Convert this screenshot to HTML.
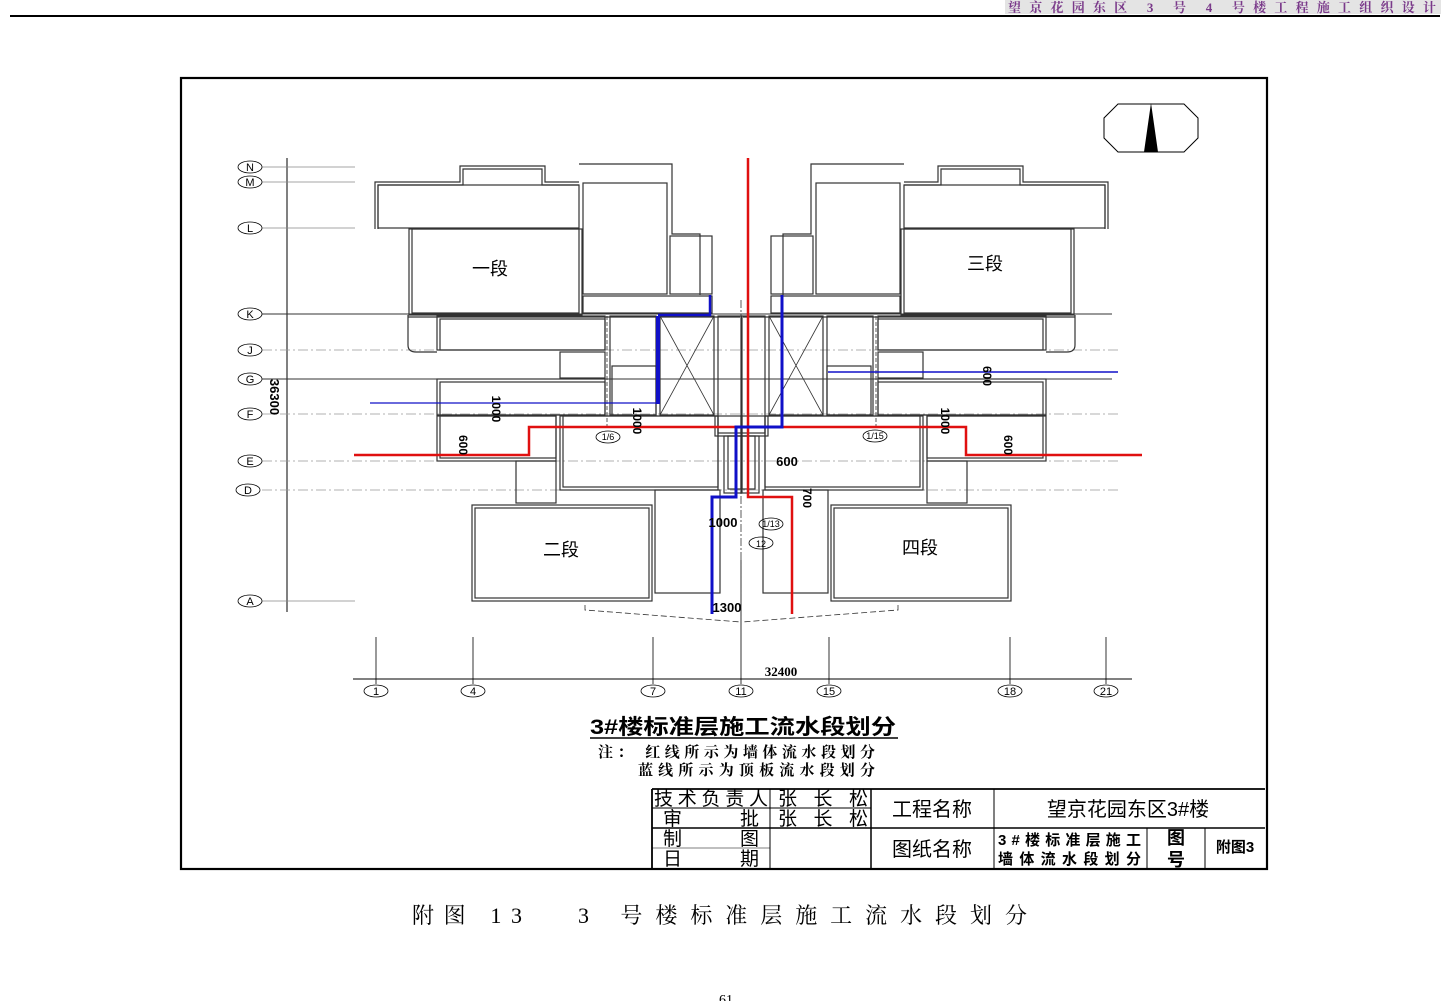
<!DOCTYPE html>
<html><head><meta charset="utf-8"><style>
html,body{margin:0;padding:0;background:#fff;}
svg{display:block;}
text{font-family:"Liberation Sans","Noto Sans CJK SC",sans-serif;}
.w{fill:none;stroke:#333;stroke-width:1.2;}
.g{stroke:#999;stroke-width:0.8;stroke-dasharray:10 3 2 3;fill:none;}
.cj{font-family:"Liberation Serif","Noto Serif CJK SC",serif;}
</style></head><body>
<svg width="1443" height="1001" viewBox="0 0 1443 1001" xmlns="http://www.w3.org/2000/svg">
<!-- header -->
<rect x="1005" y="0" width="436" height="14" fill="#e4e4e4"/>
<text x="1008" y="12" font-size="13" font-weight="bold" fill="#7a3a8a" textLength="428" lengthAdjust="spacing" class="cj">望京花园东区 3 号 4 号楼工程施工组织设计</text>
<line x1="10" y1="16" x2="1440" y2="16" stroke="#000" stroke-width="2"/>
<!-- frame -->
<rect x="181" y="78" width="1086" height="791" fill="none" stroke="#000" stroke-width="2.2"/>
<!-- compass -->
<polygon points="1118,104 1184,104 1198,118 1198,138 1184,152 1118,152 1104,138 1104,118" fill="none" stroke="#000" stroke-width="1"/>
<polygon points="1151,103 1144,152 1158,152" fill="#000"/>
<!-- grid lines -->
<line x1="287" y1="158" x2="287" y2="612" stroke="#000" stroke-width="1"/>
<g stroke="#888" stroke-width="0.8">
<line x1="262" y1="167" x2="355" y2="167"/><line x1="262" y1="182" x2="355" y2="182"/>
<line x1="262" y1="228" x2="355" y2="228"/><line x1="262" y1="601" x2="355" y2="601"/>
</g>
<line x1="262" y1="314" x2="1112" y2="314" stroke="#333" stroke-width="1"/>
<line x1="262" y1="379" x2="1112" y2="379" stroke="#333" stroke-width="1"/>
<line x1="262" y1="350" x2="1120" y2="350" class="g"/>
<line x1="262" y1="414" x2="1120" y2="414" class="g"/>
<line x1="262" y1="461" x2="1120" y2="461" class="g"/>
<line x1="262" y1="490" x2="1120" y2="490" class="g"/>
<g font-size="11" text-anchor="middle" fill="#000" class="cj">
<g fill="none" stroke="#000" stroke-width="0.8">
<ellipse cx="250" cy="167" rx="12" ry="6"/><ellipse cx="250" cy="182" rx="12" ry="6"/><ellipse cx="250" cy="228" rx="12" ry="6"/><ellipse cx="250" cy="314" rx="12" ry="6"/><ellipse cx="250" cy="350" rx="12" ry="6"/><ellipse cx="250" cy="379" rx="12" ry="6"/><ellipse cx="250" cy="414" rx="12" ry="6"/><ellipse cx="250" cy="461" rx="12" ry="6"/><ellipse cx="248" cy="490" rx="12" ry="6"/><ellipse cx="250" cy="601" rx="12" ry="6"/>
</g>
<text x="250" y="171">N</text><text x="250" y="186">M</text><text x="250" y="232">L</text><text x="250" y="318">K</text><text x="250" y="354">J</text><text x="250" y="383">G</text><text x="250" y="418">F</text><text x="250" y="465">E</text><text x="248" y="494">D</text><text x="250" y="605">A</text>
</g>
<text transform="translate(270,397) rotate(90)" font-size="13" font-weight="bold" text-anchor="middle">36300</text>
<!-- bottom axis -->
<line x1="353" y1="679" x2="1132" y2="679" stroke="#000" stroke-width="1"/>
<g stroke="#000" stroke-width="0.8">
<line x1="376" y1="637" x2="376" y2="684"/><line x1="473" y1="637" x2="473" y2="684"/><line x1="653" y1="637" x2="653" y2="684"/><line x1="741" y1="560" x2="741" y2="684"/><line x1="829" y1="637" x2="829" y2="684"/><line x1="1010" y1="637" x2="1010" y2="684"/><line x1="1106" y1="637" x2="1106" y2="684"/>
</g>
<g fill="none" stroke="#000" stroke-width="0.8">
<ellipse cx="376" cy="691" rx="12" ry="6"/><ellipse cx="473" cy="691" rx="12" ry="6"/><ellipse cx="653" cy="691" rx="12" ry="6"/><ellipse cx="741" cy="691" rx="12" ry="6"/><ellipse cx="829" cy="691" rx="12" ry="6"/><ellipse cx="1010" cy="691" rx="12" ry="6"/><ellipse cx="1106" cy="691" rx="12" ry="6"/>
</g>
<g font-size="11" text-anchor="middle" class="cj">
<text x="376" y="695">1</text><text x="473" y="695">4</text><text x="653" y="695">7</text><text x="741" y="695">11</text><text x="829" y="695">15</text><text x="1010" y="695">18</text><text x="1106" y="695">21</text>
</g>
<text x="781" y="676" font-size="13" font-weight="bold" text-anchor="middle" class="cj">32400</text>

<!-- left half of building, mirrored for right half -->
<g id="half">
<polyline class="w" points="375,229 375,182 460,182 460,166 545,166 545,182 579,182"/>
<polyline class="w" points="378,229 378,185 463,185 463,169 542,169 542,185 579,185"/>
<rect class="w" x="378" y="185" width="201" height="43"/>
<rect class="w" x="412" y="229" width="167" height="84"/><rect class="w" x="409" y="229" width="173" height="86"/>
<polyline class="w" points="579,164 672,164 672,234 700,234 700,295"/>
<rect class="w" x="583" y="183" width="84" height="111"/>
<rect class="w" x="670" y="236" width="42" height="58"/>
<rect class="w" x="583" y="296" width="129" height="17"/>
<line class="w" x1="408" y1="317" x2="740" y2="317"/>
<path class="w" d="M408,315 L408,345 Q408,352 416,352 L437,352"/>
<rect class="w" x="437" y="316" width="168" height="34"/><rect class="w" x="440" y="319" width="165" height="31"/>
<rect class="w" x="560" y="352" width="45" height="26"/>
<rect class="w" x="437" y="379" width="168" height="36"/><rect class="w" x="440" y="382" width="165" height="33"/>
<rect class="w" x="437" y="416" width="119" height="45"/><rect class="w" x="440" y="416" width="116" height="42"/>
<rect class="w" x="560" y="416" width="158" height="74"/><rect class="w" x="563" y="416" width="155" height="71"/>
<rect class="w" x="516" y="461" width="40" height="42"/>
<rect class="w" x="472" y="505" width="180" height="96"/><rect class="w" x="475" y="508" width="174" height="90"/>
<rect class="w" x="655" y="490" width="65" height="103"/>
<rect class="w" x="610" y="316" width="46" height="99"/><rect class="w" x="612" y="366" width="44" height="49"/>
<line x1="607" y1="316" x2="607" y2="430" stroke="#333" stroke-width="0.8" stroke-dasharray="4 2"/>
<rect class="w" x="660" y="316" width="54" height="99"/>
<line x1="660" y1="316" x2="714" y2="415" stroke="#333" stroke-width="0.8"/><line x1="714" y1="316" x2="660" y2="415" stroke="#333" stroke-width="0.8"/>
<rect class="w" x="718" y="316" width="24" height="117"/>
<rect class="w" x="715" y="416" width="27" height="20"/>
<rect class="w" x="724" y="436" width="18" height="57"/><rect class="w" x="728" y="436" width="14" height="53"/>
<polyline fill="none" stroke="#333" stroke-width="0.8" stroke-dasharray="6 3" points="585,605 585,610 741,622"/>
</g>
<use href="#half" transform="translate(1483,0) scale(-1,1)"/>
<line x1="741" y1="300" x2="741" y2="625" stroke="#333" stroke-width="0.8" stroke-dasharray="8 2 2 2"/>
<!-- circle labels -->
<g fill="none" stroke="#000" stroke-width="0.8">
<ellipse cx="608" cy="437" rx="12" ry="6"/><ellipse cx="875" cy="436" rx="12" ry="6"/><ellipse cx="771" cy="524" rx="12" ry="6"/><ellipse cx="761" cy="543" rx="12" ry="6"/>
</g>
<g font-size="9" text-anchor="middle" class="cj">
<text x="608" y="440">1/6</text><text x="875" y="439">1/15</text><text x="771" y="527">1/13</text><text x="761" y="547">12</text>
</g>
<!-- room labels -->
<g font-size="18" text-anchor="middle" class="cj">
<text x="490" y="275">一段</text><text x="985" y="270">三段</text><text x="561" y="556">二段</text><text x="920" y="554">四段</text>
</g>
<!-- red lines -->
<g fill="none" stroke="#e01010" stroke-width="2.5">
<polyline points="748,158 748,497 792,497 792,614"/>
<polyline points="354,455 529,455 529,427 966,427 966,455 1142,455"/>
</g>
<!-- blue lines -->
<g fill="none" stroke="#1010c8">
<line x1="370" y1="403" x2="658" y2="403" stroke-width="1.2"/>
<line x1="658" y1="316" x2="658" y2="404" stroke-width="4"/>
<polyline points="658,315 710,315 710,295" stroke-width="2.5"/>
<polyline points="782,295 782,427 736,427 736,497 712,497 712,614" stroke-width="3"/>
<line x1="828" y1="372" x2="1118" y2="372" stroke-width="1.6"/>
</g>
<!-- dims -->
<g font-size="12" font-weight="bold" text-anchor="middle" class="cj">
<text transform="translate(492,409) rotate(90)">1000</text>
<text transform="translate(633,421) rotate(90)">1000</text>
<text transform="translate(459,445) rotate(90)">600</text>
<text transform="translate(941,421) rotate(90)">1000</text>
<text transform="translate(1004,445) rotate(90)">600</text>
<text transform="translate(983,376) rotate(90)">600</text>
<text transform="translate(803,498) rotate(90)">700</text>
<text x="787" y="466" font-size="13">600</text>
<text x="723" y="527" font-size="13">1000</text>
<text x="727" y="612" font-size="13">1300</text>
</g>
<!-- title -->
<text x="590" y="734" font-size="21" font-weight="bold" textLength="306" lengthAdjust="spacingAndGlyphs">3#楼标准层施工流水段划分</text>
<line x1="590" y1="738" x2="898" y2="738" stroke="#000" stroke-width="1.5"/>
<text x="598" y="757" font-size="15" font-weight="bold" class="cj" textLength="277" lengthAdjust="spacing">注：  红线所示为墙体流水段划分</text>
<text x="638" y="775" font-size="15" font-weight="bold" class="cj" textLength="237" lengthAdjust="spacing">蓝线所示为顶板流水段划分</text>
<!-- title block -->
<g stroke="#000" fill="none">
<line x1="652" y1="789" x2="1265" y2="789" stroke-width="1.8"/>
<line x1="652" y1="789" x2="652" y2="869" stroke-width="1.8"/>
<line x1="770" y1="789" x2="770" y2="869" stroke-width="1"/>
<line x1="871" y1="789" x2="871" y2="869" stroke-width="1.5"/>
<line x1="994" y1="789" x2="994" y2="869" stroke-width="1"/>
<line x1="1147" y1="828" x2="1147" y2="869" stroke-width="1"/>
<line x1="1205" y1="828" x2="1205" y2="869" stroke-width="1"/>
<line x1="652" y1="808" x2="871" y2="808" stroke-width="1"/>
<line x1="652" y1="828" x2="1265" y2="828" stroke-width="1.5"/>
<line x1="652" y1="848" x2="770" y2="848" stroke-width="0.6"/>
</g>
<g font-size="19">
<text x="654" y="805" textLength="114" lengthAdjust="spacing">技术负责人</text><text x="778" y="805" textLength="90" lengthAdjust="spacing">张长松</text>
<text x="663" y="825">审</text><text x="740" y="825">批</text><text x="778" y="825" textLength="90" lengthAdjust="spacing">张长松</text>
<text x="663" y="845">制</text><text x="740" y="845">图</text>
<text x="663" y="865">日</text><text x="740" y="865">期</text>
</g>
<g font-size="20" text-anchor="middle">
<text x="932" y="816">工程名称</text><text x="932" y="856">图纸名称</text>
<text x="1128" y="816">望京花园东区3#楼</text>
</g>
<g font-size="15" font-weight="bold">
<text x="998" y="845" textLength="143" lengthAdjust="spacing">3#楼标准层施工</text><text x="998" y="864" textLength="143" lengthAdjust="spacing">墙体流水段划分</text>
<text x="1176" y="844" font-size="18" text-anchor="middle">图</text><text x="1176" y="866" font-size="18" text-anchor="middle">号</text>
<text x="1235" y="852" text-anchor="middle">附图3</text>
</g>
<!-- caption -->
<text x="412" y="923" font-size="22" class="cj" textLength="110" lengthAdjust="spacing">附图 13</text>
<text x="578" y="923" font-size="22" class="cj" textLength="449" lengthAdjust="spacing">3 号楼标准层施工流水段划分</text>
<text x="726" y="1004" font-size="14" text-anchor="middle" class="cj">61</text>
</svg>
</body></html>
